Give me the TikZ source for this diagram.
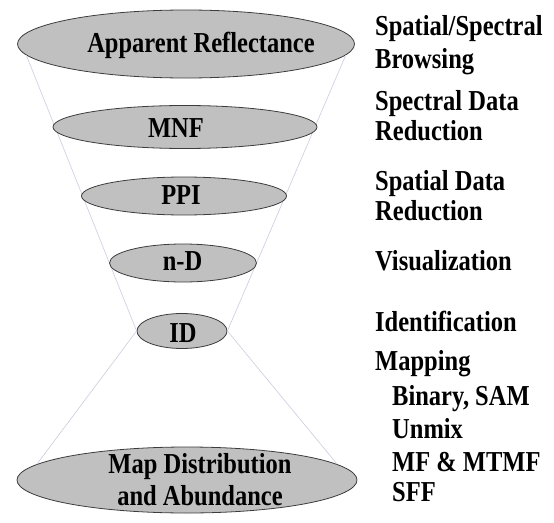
\documentclass[tikz,border=0pt]{standalone}
\usepackage{fontspec}
\setmainfont{Liberation Serif}
\usetikzlibrary{shapes.geometric}
\definecolor{ellfill}{RGB}{192,192,192}
\definecolor{ellline}{RGB}{60,60,60}
\definecolor{funnel}{RGB}{200,205,222}
\newcommand{\tall}[1]{\scalebox{1}[1.18]{#1}}
\tikzset{
  ell/.style={ellipse, draw=ellline, line width=0.8pt, fill=ellfill, inner sep=0pt},
  txt/.style={font=\fontsize{24.5}{28}\selectfont\bfseries, inner sep=0pt, anchor=base},
  side/.style={font=\fontsize{24.5}{28}\selectfont\bfseries, inner sep=0pt, anchor=base west},
  fun/.style={draw=funnel, line width=0.6pt}
}
\begin{document}
\begin{tikzpicture}[x=1pt,y=-1pt]
\useasboundingbox (0,0) rectangle (554,522);
% ellipses
\node[ell, minimum width=337pt, minimum height=68pt] (ar) at (186,44) {};
\node[ell, minimum width=90pt, minimum height=35pt] (id) at (182,331) {};
\node[ell, minimum width=340pt, minimum height=66pt] (map) at (187,480) {};
% funnel lines
\draw[fun] (ar.184) -- (id.180) -- (map.174);
\draw[fun] (ar.-4) -- (id.0) -- (map.6);
% middle ellipses drawn over the funnel lines
\node[ell, minimum width=264pt, minimum height=43pt] (mnf) at (185,127) {};
\node[ell, minimum width=205pt, minimum height=38pt] (ppi) at (184,196) {};
\node[ell, minimum width=147pt, minimum height=38pt] (nd) at (183,263) {};
% ellipse texts
\node[txt] (tar) at (201,52) {\tall{Apparent Reflectance}};
\node[txt] (tmnf) at (176,137) {\tall{MNF}};
\node[txt] (tppi) at (181,204) {\tall{PPI}};
\node[txt] (tnd) at (182.5,270) {\tall{n-D}};
\node[txt] (tid) at (183,342) {\tall{ID}};
\node[txt] (tmap1) at (200,473) {\tall{Map Distribution}};
\node[txt] (tmap2) at (200,505) {\tall{and Abundance}};
% side texts
\node[side] (s1) at (375,35) {\tall{Spatial/Spectral}};
\node[side] (s2) at (375,68) {\tall{Browsing}};
\node[side] (s3) at (375,110) {\tall{Spectral Data}};
\node[side] (s4) at (375,140) {\tall{Reduction}};
\node[side] (s5) at (375,190) {\tall{Spatial Data}};
\node[side] (s6) at (375,220) {\tall{Reduction}};
\node[side] (s7) at (375,270) {\tall{Visualization}};
\node[side] (s8) at (375,331) {\tall{Identification}};
\node[side] (s9) at (375,370) {\tall{Mapping}};
\node[side] (s10) at (392,405) {\tall{Binary, SAM}};
\node[side] (s11) at (392,438) {\tall{Unmix}};
\node[side] (s12) at (392,471) {\tall{MF \& MTMF}};
\node[side] (s13) at (392,501) {\tall{SFF}};
\end{tikzpicture}
\end{document}
